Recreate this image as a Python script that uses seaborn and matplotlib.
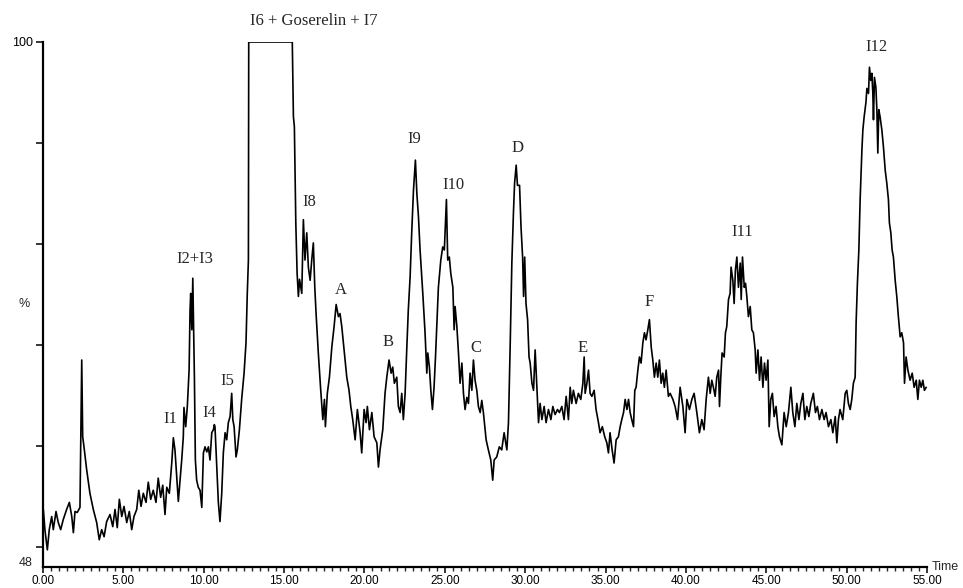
import matplotlib
matplotlib.use("Agg")
import matplotlib.pyplot as plt
import seaborn as sns
import pandas as pd
from matplotlib.ticker import MultipleLocator

# ---- data (time in min, intensity in %) ----
time_min = [
    0.02, 0.12, 0.27, 0.39, 0.54, 0.64, 0.81, 0.95, 1.10, 1.26, 1.47, 1.64, 1.79, 1.89, 1.99, 2.13, 2.30,
    2.41, 2.47, 2.55, 2.72, 2.92, 3.13, 3.34, 3.50, 3.65, 3.80, 3.96, 4.17, 4.34, 4.48, 4.62, 4.75, 4.90,
    5.04, 5.21, 5.37, 5.52, 5.66, 5.83, 5.96, 6.10, 6.24, 6.41, 6.55, 6.70, 6.86, 7.03, 7.17, 7.32, 7.45,
    7.59, 7.70, 7.86, 8.01, 8.11, 8.21, 8.32, 8.42, 8.53, 8.63, 8.73, 8.77, 8.88, 8.98, 9.09, 9.15, 9.19,
    9.26, 9.32, 9.36, 9.42, 9.48, 9.56, 9.66, 9.77, 9.88, 9.98, 10.08, 10.19, 10.29, 10.39, 10.50, 10.60,
    10.66, 10.70, 10.81, 10.91, 11.01, 11.12, 11.22, 11.33, 11.43, 11.53, 11.64, 11.74, 11.81, 11.89,
    12.01, 12.09, 12.22, 12.36, 12.51, 12.63, 12.71, 12.78, 12.80, 15.51, 15.58, 15.64, 15.73, 15.81,
    15.89, 15.96, 16.10, 16.20, 16.30, 16.41, 16.51, 16.62, 16.72, 16.82, 16.91, 16.99, 17.13, 17.28,
    17.41, 17.51, 17.57, 17.69, 17.82, 17.97, 18.11, 18.24, 18.38, 18.48, 18.59, 18.73, 18.90, 19.04,
    19.15, 19.27, 19.42, 19.56, 19.73, 19.83, 19.98, 20.10, 20.18, 20.31, 20.46, 20.60, 20.77, 20.87,
    20.97, 21.14, 21.28, 21.39, 21.53, 21.66, 21.76, 21.86, 22.01, 22.11, 22.22, 22.32, 22.42, 22.53,
    22.63, 22.73, 22.84, 22.94, 23.05, 23.17, 23.26, 23.36, 23.46, 23.63, 23.77, 23.88, 23.94, 24.04,
    24.13, 24.23, 24.33, 24.42, 24.50, 24.60, 24.75, 24.87, 24.97, 25.10, 25.18, 25.28, 25.37, 25.50,
    25.58, 25.64, 25.75, 25.85, 25.95, 26.06, 26.16, 26.26, 26.37, 26.47, 26.57, 26.68, 26.78, 26.88,
    26.99, 27.09, 27.20, 27.30, 27.40, 27.57, 27.71, 27.86, 27.98, 28.07, 28.23, 28.39, 28.54, 28.69,
    28.86, 28.96, 29.07, 29.17, 29.27, 29.34, 29.44, 29.52, 29.65, 29.74, 29.84, 29.90, 29.97, 30.05,
    30.15, 30.24, 30.31, 30.42, 30.52, 30.62, 30.73, 30.83, 30.93, 31.04, 31.18, 31.30, 31.45, 31.60,
    31.72, 31.86, 32.01, 32.13, 32.28, 32.42, 32.55, 32.69, 32.80, 32.90, 33.00, 33.17, 33.31, 33.46,
    33.59, 33.67, 33.73, 33.84, 33.94, 34.04, 34.15, 34.29, 34.41, 34.56, 34.66, 34.80, 34.95, 35.08,
    35.18, 35.28, 35.41, 35.53, 35.66, 35.80, 35.91, 36.01, 36.12, 36.22, 36.33, 36.43, 36.53, 36.63,
    36.74, 36.82, 36.90, 37.01, 37.11, 37.21, 37.32, 37.42, 37.52, 37.63, 37.73, 37.84, 37.94, 38.04,
    38.15, 38.25, 38.35, 38.46, 38.56, 38.66, 38.77, 38.91, 39.02, 39.19, 39.33, 39.48, 39.64, 39.81,
    39.95, 40.06, 40.22, 40.37, 40.51, 40.68, 40.84, 40.99, 41.13, 41.26, 41.40, 41.51, 41.61, 41.71,
    41.82, 41.92, 42.03, 42.09, 42.17, 42.25, 42.38, 42.46, 42.54, 42.65, 42.75, 42.81, 42.92, 43.00,
    43.08, 43.17, 43.27, 43.38, 43.44, 43.52, 43.63, 43.71, 43.79, 43.89, 44.00, 44.10, 44.20, 44.31,
    44.37, 44.48, 44.58, 44.68, 44.79, 44.89, 44.99, 45.10, 45.18, 45.28, 45.38, 45.49, 45.61, 45.72,
    45.82, 45.97, 46.11, 46.24, 46.38, 46.53, 46.65, 46.78, 46.90, 47.03, 47.15, 47.28, 47.40, 47.52,
    47.65, 47.77, 47.93, 48.06, 48.18, 48.31, 48.46, 48.60, 48.72, 48.87, 49.02, 49.14, 49.29, 49.39,
    49.49, 49.59, 49.76, 49.91, 50.01, 50.11, 50.22, 50.32, 50.42, 50.53, 50.59, 50.67, 50.76, 50.84,
    50.95, 51.01, 51.09, 51.20, 51.26, 51.36, 51.42, 51.50, 51.57, 51.63, 51.67, 51.73, 51.82, 51.88,
    51.94, 52.00, 52.08, 52.19, 52.29, 52.40, 52.50, 52.60, 52.66, 52.75, 52.83, 52.91, 53.02, 53.12,
    53.22, 53.33, 53.43, 53.54, 53.60, 53.70, 53.81, 53.95, 54.08, 54.20, 54.33, 54.43, 54.53, 54.64,
    54.74, 54.84, 54.95,
]
intensity_pct = [
    53.7, 51.7, 49.7, 51.7, 53.0, 51.7, 53.5, 52.4, 51.7, 52.7, 53.7, 54.4, 53.0, 51.4, 53.5, 53.4, 53.9,
    68.5, 60.9, 59.9, 57.6, 55.3, 53.7, 52.4, 50.7, 51.7, 51.0, 52.5, 53.2, 52.0, 53.7, 51.9, 54.7, 53.0,
    54.0, 52.4, 53.5, 51.7, 53.0, 53.7, 55.6, 54.0, 55.3, 54.4, 56.4, 54.7, 55.6, 54.4, 56.8, 54.9, 56.1,
    53.2, 55.9, 55.3, 58.3, 60.8, 59.6, 56.9, 54.5, 56.6, 58.6, 60.9, 63.8, 61.9, 63.9, 67.5, 73.5, 75.1,
    71.5, 76.6, 72.5, 66.8, 58.6, 56.6, 55.9, 55.6, 53.9, 59.3, 59.9, 59.4, 59.9, 58.6, 61.3, 61.6,
    62.1, 61.9, 57.9, 54.4, 52.5, 55.3, 59.3, 61.3, 60.6, 62.3, 62.9, 65.2, 62.6, 61.9,
    58.9, 59.6, 61.6, 64.6, 67.2, 70.2, 75.1, 78.4, 100.0, 100.0, 92.6, 91.6, 82.0, 77.1,
    74.8, 76.5, 75.1, 82.4, 78.4, 81.1, 77.7, 76.4, 78.4, 80.1, 75.7, 73.1, 69.2, 65.5,
    62.6, 64.6, 61.9, 65.2, 66.8, 69.8, 71.8, 74.0, 72.8, 73.1, 71.8, 69.5, 66.8, 65.5,
    63.9, 62.6, 60.6, 63.6, 61.3, 59.3, 63.6, 62.3, 63.9, 61.6, 63.3, 60.9, 60.3, 57.9,
    59.6, 61.6, 65.2, 66.8, 68.5, 67.2, 67.8, 66.2, 66.8, 63.9, 63.3, 65.2, 62.6, 65.2,
    69.5, 73.5, 76.7, 81.1, 85.3, 88.3, 85.0, 82.7, 79.4, 75.1, 71.2, 67.2, 69.2, 67.8,
    65.5, 63.6, 65.8, 68.8, 71.8, 75.7, 78.4, 79.7, 79.4, 84.4, 78.4, 78.7, 77.1, 75.7,
    71.5, 73.8, 71.8, 69.2, 66.2, 68.2, 65.2, 63.6, 64.8, 64.2, 67.2, 65.5, 68.5, 66.5,
    65.5, 63.9, 63.3, 64.5, 63.3, 60.6, 59.6, 58.6, 56.6, 58.6, 58.9, 59.9, 59.6, 61.3,
    59.6, 62.3, 70.2, 78.1, 83.1, 86.0, 87.8, 85.8, 85.8, 81.7, 78.7, 74.8, 78.7, 74.1,
    72.5, 68.8, 68.2, 66.2, 65.5, 69.5, 65.8, 62.3, 64.2, 62.6, 63.9, 62.3, 63.6, 62.6,
    63.9, 63.1, 63.6, 63.3, 63.9, 62.6, 64.9, 62.6, 65.8, 64.2, 65.5, 64.2, 65.2, 64.6,
    66.2, 68.8, 65.2, 66.2, 67.5, 65.2, 64.9, 65.5, 63.6, 62.3, 61.3, 61.9, 60.9, 60.3,
    59.3, 61.3, 59.6, 58.3, 60.6, 60.9, 61.9, 62.6, 63.3, 64.6, 63.6, 64.6, 63.3, 62.6,
    61.9, 65.5, 65.8, 67.5, 68.8, 68.2, 70.2, 71.2, 70.5, 71.5, 72.5, 69.8, 68.5, 66.8,
    68.2, 66.8, 68.5, 66.2, 67.2, 65.8, 67.5, 64.9, 65.2, 64.6, 63.9, 62.6, 65.8, 63.9,
    61.3, 64.6, 63.6, 64.6, 65.2, 63.3, 61.3, 62.6, 61.6, 64.6, 66.8, 65.2, 66.5, 65.8,
    64.9, 66.8, 67.5, 63.9, 66.8, 69.2, 68.8, 71.2, 71.8, 74.5, 75.1, 77.7, 76.4, 74.1,
    77.4, 78.7, 75.7, 78.1, 74.5, 78.7, 75.7, 76.1, 74.8, 72.8, 73.8, 71.5, 71.2, 69.5,
    67.2, 69.5, 66.5, 68.8, 65.8, 68.2, 66.5, 68.5, 61.9, 64.6, 65.2, 62.9, 63.9, 61.9,
    60.9, 60.1, 63.3, 61.9, 63.3, 65.8, 63.3, 61.9, 64.2, 62.6, 64.2, 65.2, 62.6, 63.9,
    62.9, 64.2, 65.2, 63.3, 63.9, 62.6, 63.6, 62.6, 63.3, 61.9, 62.6, 61.3, 62.9, 60.3,
    62.6, 63.6, 62.6, 65.2, 65.5, 64.2, 63.6, 64.6, 66.2, 66.8, 72.2, 76.1, 79.4, 84.4,
    89.3, 91.3, 92.6, 94.0, 95.4, 94.9, 97.5, 96.2, 96.9, 94.9, 92.3, 96.5, 95.5, 93.3,
    89.0, 93.3, 92.6, 91.3, 89.6, 87.3, 86.0, 84.4, 82.1, 81.1, 79.4, 78.7, 76.4, 74.8,
    72.8, 70.8, 71.2, 70.2, 66.2, 68.8, 67.5, 66.5, 67.2, 65.8, 66.5, 64.6, 66.5, 65.8,
    66.5, 65.5, 65.8,
]

peak_labels = ["I6 + Goserelin + I7", "I2+I3", "I1", "I4", "I5", "I8", "A", "B", "I9",
               "I10", "C", "D", "E", "F", "I11", "I12"]
label_time = [16.86, 9.46, 7.90, 10.33, 11.45, 16.55, 18.51, 21.44, 23.09,
              25.51, 26.91, 29.53, 33.57, 37.71, 43.50, 51.84]
label_pct = [102.1, 78.5, 62.7, 63.3, 66.4, 84.2, 75.4, 70.3, 90.4,
             85.8, 69.7, 89.5, 69.7, 74.2, 81.2, 99.5]

x_ticks = [0, 5, 10, 15, 20, 25, 30, 35, 40, 45, 50, 55]
x_tick_labels = ["0.00", "5.00", "10.00", "15.00", "20.00", "25.00", "30.00",
                 "35.00", "40.00", "45.00", "50.00", "55.00"]
y_ticks = [50, 60, 70, 80, 90, 100]
y_tick_labels = ["", "", "", "", "", "100"]

df = pd.DataFrame({"Time": time_min, "Intensity": intensity_pct})

sns.set_style("ticks")
plt.rcParams["font.family"] = ["Liberation Sans", "DejaVu Sans"]

fig = plt.figure(figsize=(9.63, 5.88), dpi=100)
ax = fig.add_axes([43 / 963, 1 - 567 / 588, (927 - 43) / 963, (567 - 42) / 588])

sns.lineplot(data=df, x="Time", y="Intensity", ax=ax, color="black", linewidth=1.2,
             estimator=None, sort=False)

ax.set_xlim(0, 55)
ax.set_ylim(48, 100)
ax.set_xlabel("")
ax.set_ylabel("")

for s in ["top", "right"]:
    ax.spines[s].set_visible(False)
for s in ["left", "bottom"]:
    ax.spines[s].set_linewidth(1.6)
    ax.spines[s].set_color("black")

ax.set_xticks(x_ticks)
ax.set_xticklabels(x_tick_labels, fontsize=8.5)
ax.xaxis.set_minor_locator(MultipleLocator(0.5))
ax.set_yticks(y_ticks)
ax.set_yticklabels(y_tick_labels, fontsize=9)
ax.tick_params(axis="x", which="major", direction="out", length=4.5, width=1.1, pad=1.0, colors="black")
ax.tick_params(axis="x", which="minor", direction="out", length=2.8, width=1.0)
ax.tick_params(axis="y", which="major", direction="out", length=5, width=1.1, pad=2, colors="black")

ax.text(-0.68, 48.4, "48", fontsize=9, ha="right", va="center", clip_on=False)
ax.text(-1.18, 74.06, "%", fontsize=9, ha="center", va="center", clip_on=False)
ax.text(55.32, 48.0, "Time", fontsize=9, ha="left", va="center", clip_on=False)

for lab, tx, ty in zip(peak_labels, label_time, label_pct):
    ax.text(tx, ty, lab, fontsize=12, family=["Liberation Serif", "DejaVu Serif"],
            ha="center", va="center", clip_on=False)

fig.savefig("out.png", dpi=100)
